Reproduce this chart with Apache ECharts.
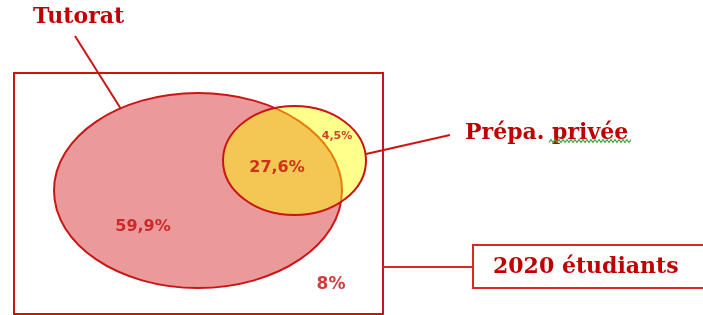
<!DOCTYPE html>
<html>
<head>
<meta charset="utf-8">
<script src="https://cdn.jsdelivr.net/npm/echarts@6/dist/echarts.min.js"></script>
<style>
  html, body { margin: 0; padding: 0; background: #fff; }
  #chart { width: 703px; height: 315px; }
</style>
</head>
<body>
<div id="chart"></div>
<script>
// sets of the diagram and the share of students in each region
const sets = ['Tutorat', 'Prépa. privée'];
const regions = ['Tutorat seul', 'Tutorat + Prépa.', 'Prépa. seule', 'Aucun'];
const regionValues = [59.9, 27.6, 4.5, 8];
const totalStudents = 2020;

// layout, in pixel units of the hidden axes
const setShapes = {
  'Tutorat': { cx: 198, cy: 190.5, rx: 144, ry: 97.5 },
  'Prépa. privée': { cx: 294.5, cy: 160.5, rx: 71.5, ry: 54.5 }
};
const regionSpots = {
  'Tutorat seul': { x: 143, y: 227, size: 16 },
  'Tutorat + Prépa.': { x: 277, y: 168, size: 16 },
  'Prépa. seule': { x: 337, y: 136, size: 11 },
  'Aucun': { x: 331, y: 285, size: 17 }
};

const red = '#cc1414';
const textRed = '#c00000';
const fmt = v => String(v).replace('.', ',') + '%';

const chart = echarts.init(document.getElementById('chart'));

// green spell-check squiggle under "privée"
const squiggle = [];
for (let x = 549, i = 0; x <= 631; x += 2, i++) squiggle.push([x, i % 2 ? 139.5 : 142.5]);

const titleFont = { fontFamily: 'DejaVu Serif', fontWeight: 'bold', fontSize: 22, fill: textRed };

chart.setOption({
  animation: false,
  grid: { left: 0, right: 0, top: 0, bottom: 0 },
  xAxis: { type: 'value', min: 0, max: 703, show: false },
  yAxis: { type: 'value', min: 0, max: 315, inverse: true, show: false },
  graphic: [
    { type: 'rect', shape: { x: 14, y: 73, width: 369, height: 241 }, style: { fill: 'none', stroke: red, lineWidth: 2 }, z: 1 },
    { type: 'line', shape: { x1: 75, y1: 36, x2: 121, y2: 109 }, style: { stroke: red, lineWidth: 2 }, z: 1 },
    { type: 'line', shape: { x1: 366, y1: 154, x2: 450, y2: 135 }, style: { stroke: red, lineWidth: 2 }, z: 1 },
    { type: 'line', shape: { x1: 383, y1: 267, x2: 473, y2: 267 }, style: { stroke: '#d82828', lineWidth: 2 }, z: 1 },
    { type: 'rect', shape: { x: 473, y: 245, width: 240, height: 43 }, style: { fill: '#fff', stroke: '#d82828', lineWidth: 2 }, z: 1 },
    { type: 'text', x: 33, y: 17, style: Object.assign({ text: sets[0], textVerticalAlign: 'middle' }, titleFont), z: 5 },
    { type: 'text', x: 465, y: 133, style: Object.assign({ text: sets[1], textVerticalAlign: 'middle' }, titleFont), z: 5 },
    { type: 'polyline', shape: { points: squiggle }, style: { stroke: '#3fa83f', lineWidth: 1.2, fill: 'none' }, z: 5 },
    { type: 'text', x: 493, y: 267, style: Object.assign({ text: totalStudents + ' étudiants', textVerticalAlign: 'middle' }, titleFont), z: 5 }
  ],
  series: [
    {
      type: 'custom',
      name: 'ensembles',
      coordinateSystem: 'cartesian2d',
      z: 3,
      data: sets.map(name => {
        const s = setShapes[name];
        return { name, value: [s.cx, s.cy, s.rx, s.ry] };
      }),
      renderItem: (params, api) => {
        const c = api.coord([api.value(0), api.value(1)]);
        const r = api.size([api.value(2), api.value(3)]);
        const first = params.dataIndex === 0;
        return {
          type: 'ellipse',
          shape: { cx: c[0], cy: c[1], rx: r[0], ry: r[1] },
          style: {
            fill: first ? '#ea9a9a' : 'rgba(255,255,0,0.45)',
            stroke: red,
            lineWidth: 2
          }
        };
      }
    },
    {
      type: 'scatter',
      name: 'régions',
      z: 4,
      symbolSize: 0,
      data: regions.map((name, i) => ({
        name,
        value: [regionSpots[name].x, regionSpots[name].y, regionValues[i]],
        label: { fontSize: regionSpots[name].size }
      })),
      label: {
        show: true,
        position: 'inside',
        formatter: p => fmt(p.value[2]),
        fontFamily: 'DejaVu Sans',
        fontWeight: 'bold',
        color: '#c40c0c'
      }
    }
  ]
});
</script>
</body>
</html>
